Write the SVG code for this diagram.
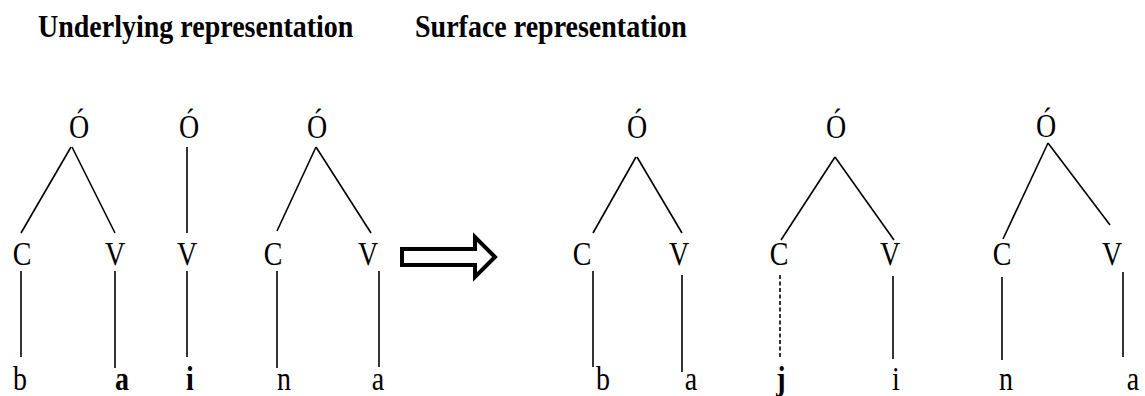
<svg xmlns="http://www.w3.org/2000/svg" width="1145" height="396" viewBox="0 0 1145 396">
<style>
.t{font-family:"Liberation Serif","Times New Roman",serif;font-size:28px;fill:#000;text-anchor:middle}
.b{font-weight:bold}
.h{font-family:"Liberation Serif","Times New Roman",serif;font-size:28px;font-weight:bold;fill:#000}
.l{stroke:#000;stroke-width:1.6;fill:none}
.d{stroke-dasharray:4 2.5}
</style>
<rect width="1145" height="396" fill="#fff"/>
<g id="titles">
<text class="h" transform="matrix(1 0 0 1.12 38 37)">Underlying representation</text>
<text class="h" transform="matrix(1 0 0 1.12 415 37)">Surface representation</text>
</g>
<g id="connectors">
<line class="l" x1="71" y1="147" x2="21" y2="233"/>
<line class="l" x1="72" y1="147" x2="115" y2="233"/>
<line class="l" x1="21" y1="271" x2="21" y2="357"/>
<line class="l" x1="115" y1="271" x2="115" y2="368"/>
<line class="l" x1="187" y1="147" x2="187" y2="233"/>
<line class="l" x1="187" y1="271" x2="187" y2="357"/>
<line class="l" x1="316" y1="147" x2="277" y2="231"/>
<line class="l" x1="316" y1="147" x2="371" y2="233"/>
<line class="l" x1="277" y1="271" x2="277" y2="368"/>
<line class="l" x1="379" y1="271" x2="379" y2="367"/>
<line class="l" x1="636" y1="157" x2="593" y2="233"/>
<line class="l" x1="637" y1="157" x2="682" y2="233"/>
<line class="l" x1="593" y1="271" x2="593" y2="367"/>
<line class="l" x1="682" y1="275" x2="682" y2="372"/>
<line class="l" x1="835" y1="157" x2="781" y2="240"/>
<line class="l" x1="835" y1="157" x2="894" y2="240"/>
<line class="l d" x1="780" y1="275" x2="780" y2="358"/>
<line class="l" x1="893" y1="276" x2="893" y2="359"/>
<line class="l" x1="1048" y1="143" x2="1003" y2="239"/>
<line class="l" x1="1048" y1="143" x2="1110" y2="225"/>
<line class="l" x1="1002" y1="277" x2="1002" y2="360"/>
<line class="l" x1="1123" y1="272" x2="1123" y2="357"/>
<path id="arrow" d="M402,249 H475 V237 L495,257 L475,277 V265 H402 Z" fill="#fff" stroke="#000" stroke-width="4"/>
</g>
<g id="tree1">
<text class="t" transform="matrix(1 0 0 1.18 79 138)">Ó</text>
<text class="t" transform="matrix(1 0 0 1.18 22 265)">C</text>
<text class="t" transform="matrix(1 0 0 1.18 115 265)">V</text>
<text class="t" transform="matrix(1 0 0 1.18 20 390)">b</text>
<text class="t b" transform="matrix(1 0 0 1.18 122 390)">a</text>
</g>
<g id="tree2">
<text class="t" transform="matrix(1 0 0 1.18 189 138)">Ó</text>
<text class="t" transform="matrix(1 0 0 1.18 187 265)">V</text>
<text class="t b" transform="matrix(1 0 0 1.18 190 390)">i</text>
</g>
<g id="tree3">
<text class="t" transform="matrix(1 0 0 1.18 317 138)">Ó</text>
<text class="t" transform="matrix(1 0 0 1.18 273 265)">C</text>
<text class="t" transform="matrix(1 0 0 1.18 368 265)">V</text>
<text class="t" transform="matrix(1 0 0 1.18 284 390)">n</text>
<text class="t" transform="matrix(1 0 0 1.18 378 390)">a</text>
</g>
<g id="tree4">
<text class="t" transform="matrix(1 0 0 1.18 637 138)">Ó</text>
<text class="t" transform="matrix(1 0 0 1.18 582 265)">C</text>
<text class="t" transform="matrix(1 0 0 1.18 679 265)">V</text>
<text class="t" transform="matrix(1 0 0 1.18 603 390)">b</text>
<text class="t" transform="matrix(1 0 0 1.18 691 390)">a</text>
</g>
<g id="tree5">
<text class="t" transform="matrix(1 0 0 1.18 836 138)">Ó</text>
<text class="t" transform="matrix(1 0 0 1.18 779 265)">C</text>
<text class="t" transform="matrix(1 0 0 1.18 890 265)">V</text>
<text class="t b" transform="matrix(1 0 0 1.18 781 390)">j</text>
<text class="t" transform="matrix(1 0 0 1.18 896 390)">i</text>
</g>
<g id="tree6">
<text class="t" transform="matrix(1 0 0 1.18 1046 137)">Ó</text>
<text class="t" transform="matrix(1 0 0 1.18 1002 265)">C</text>
<text class="t" transform="matrix(1 0 0 1.18 1112 265)">V</text>
<text class="t" transform="matrix(1 0 0 1.18 1006 390)">n</text>
<text class="t" transform="matrix(1 0 0 1.18 1133 390)">a</text>
</g>
</svg>
